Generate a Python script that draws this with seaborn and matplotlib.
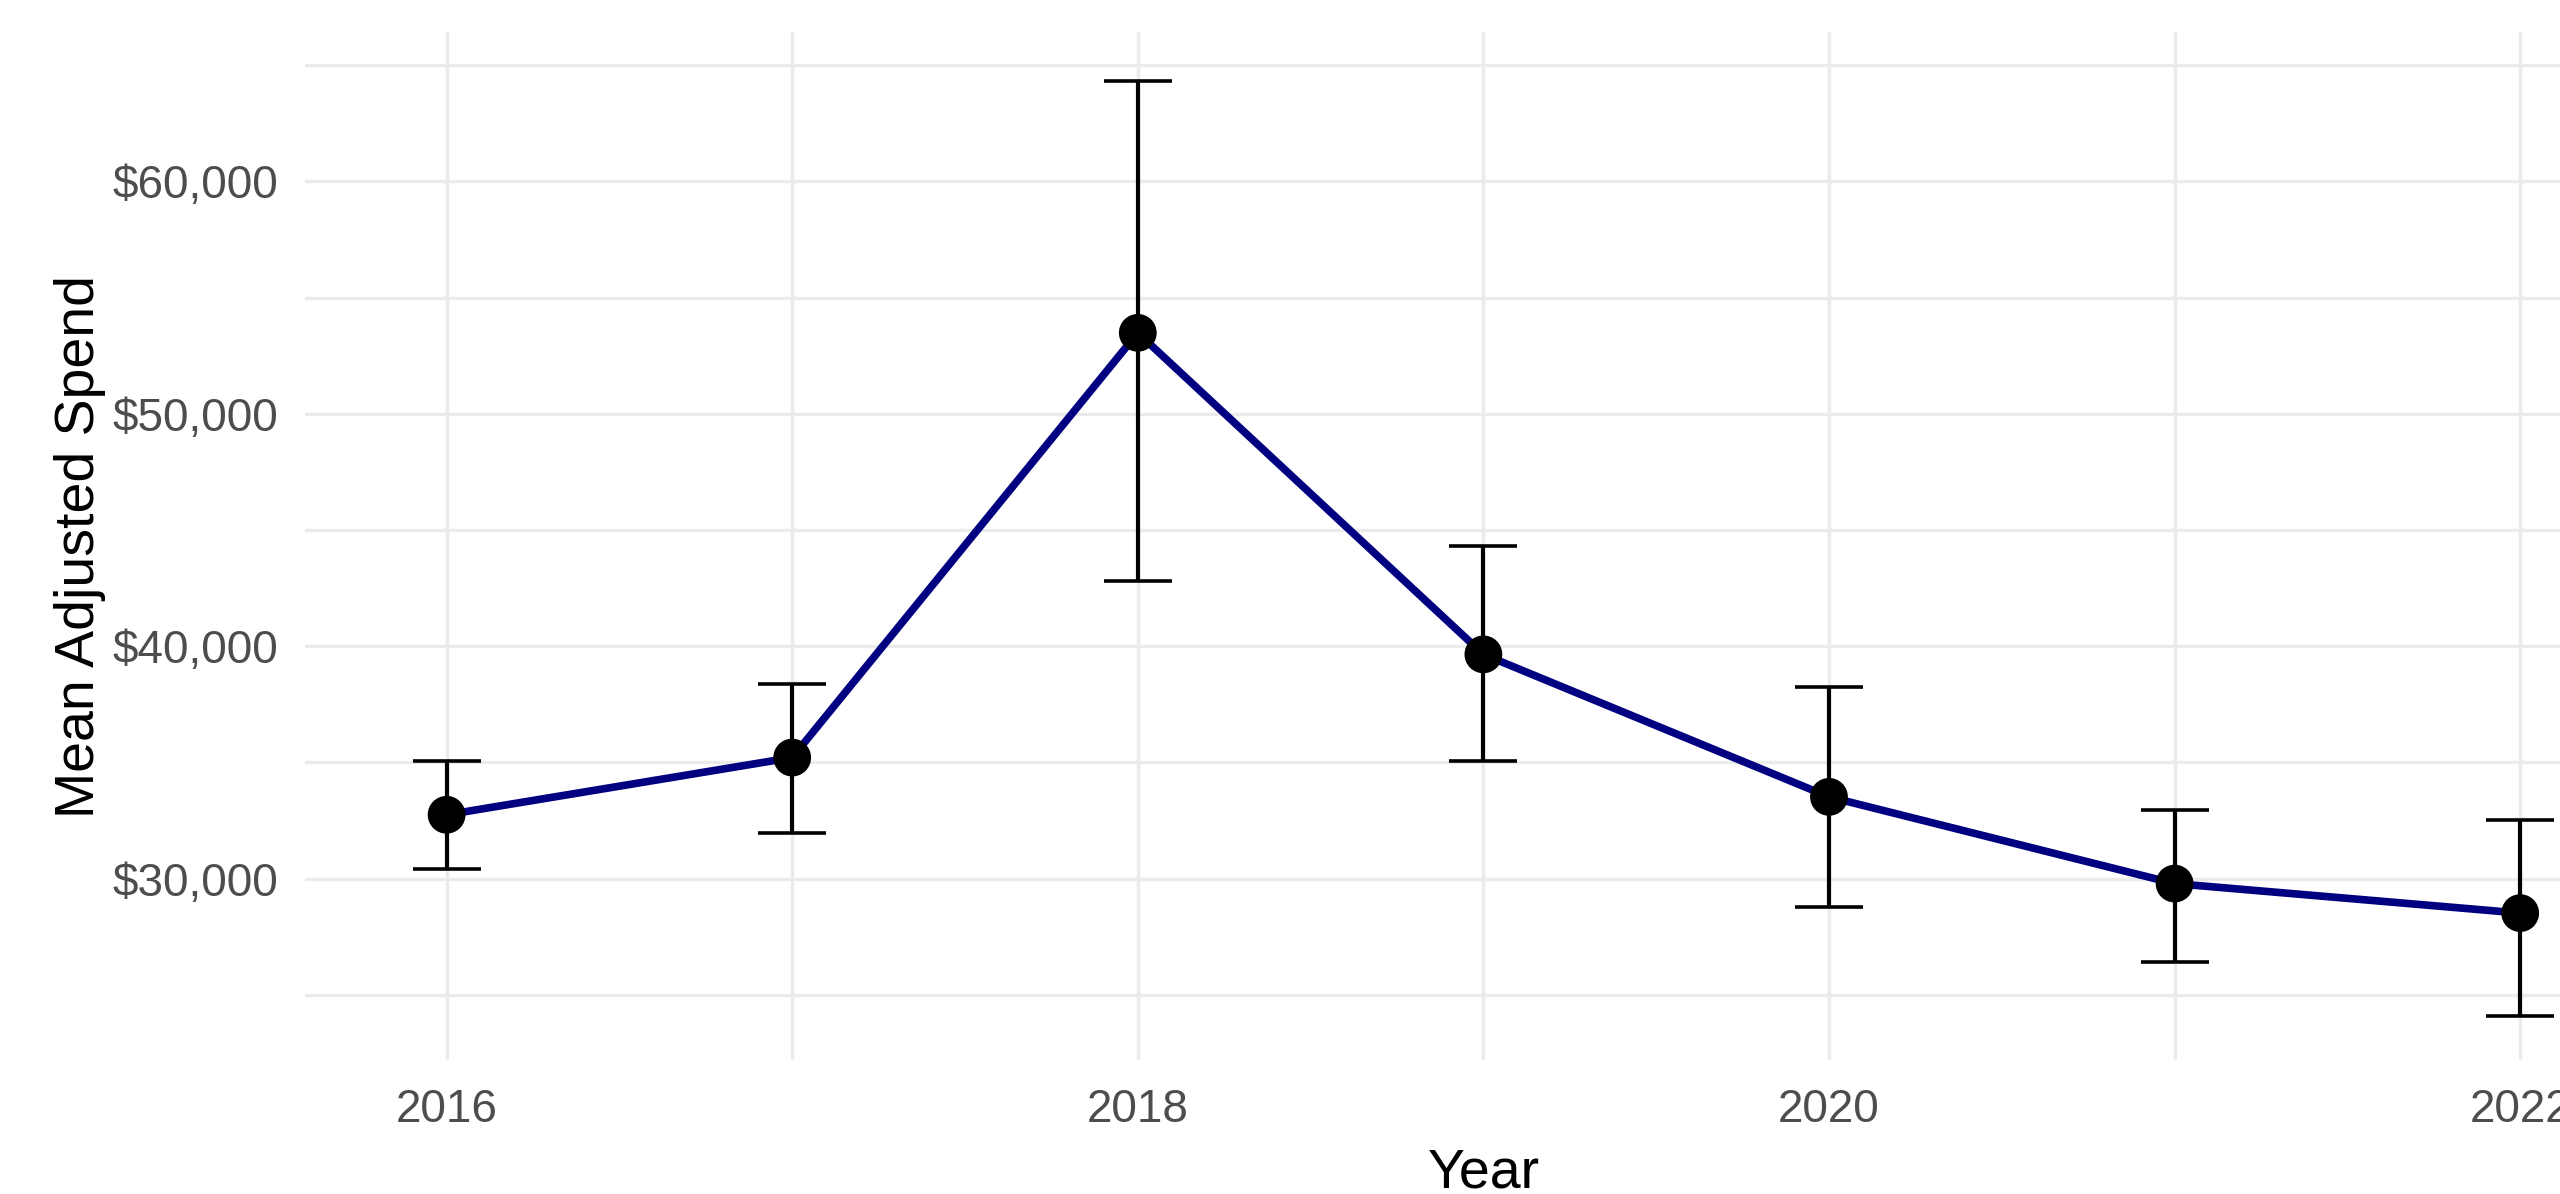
import numpy as np
import pandas as pd
import matplotlib
matplotlib.use('Agg')
import matplotlib.pyplot as plt
import matplotlib.ticker as mticker
import seaborn as sns

# values
years = [2016, 2017, 2018, 2019, 2020, 2021, 2022]
mean_spend = [32750, 35210, 53480, 39650, 33520, 29790, 28520]
ci_low = [30420, 31970, 42790, 35070, 28800, 26410, 24100]
ci_high = [35070, 38380, 64320, 44300, 38240, 32960, 32540]

df = pd.DataFrame({'year': years, 'mean': mean_spend, 'lo': ci_low, 'hi': ci_high})

sns.set_theme(style='white')
plt.rcParams['font.family'] = ['Liberation Sans', 'DejaVu Sans']

fig = plt.figure(figsize=(25.6, 11.94), dpi=100)
# panel runs past the right edge like the original (clipped)
ax = fig.add_axes([0.1191, 0.1122, 0.9207, 0.8606])

ax.set_axisbelow(True)
ax.grid(True, which='both', color='#EBEBEB', linewidth=2.4)

sns.lineplot(x='year', y='mean', data=df, ax=ax, color='#000080', linewidth=5.5, zorder=2)
ax.errorbar(df['year'], df['mean'],
            yerr=[df['mean'] - df['lo'], df['hi'] - df['mean']],
            fmt='none', ecolor='black', elinewidth=3, capsize=24.8, capthick=2.6, zorder=3)
sns.scatterplot(x='year', y='mean', data=df, ax=ax, color='black', s=740,
                edgecolor='none', zorder=4)

ax.set_xlim(2015.59, 2022.41)
ax.set_ylim(22200, 66400)

ax.xaxis.set_major_locator(mticker.FixedLocator([2016, 2018, 2020, 2022]))
ax.xaxis.set_minor_locator(mticker.FixedLocator([2017, 2019, 2021]))
ax.yaxis.set_major_locator(mticker.FixedLocator([30000, 40000, 50000, 60000]))
ax.yaxis.set_minor_locator(mticker.FixedLocator([25000, 35000, 45000, 55000, 65000]))
ax.yaxis.set_major_formatter(mticker.FuncFormatter(lambda v, p: '${:,.0f}'.format(v)))
ax.xaxis.set_major_formatter(mticker.FuncFormatter(lambda v, p: '{:d}'.format(int(v))))

ax.tick_params(axis='both', which='both', length=0, labelsize=33, labelcolor='#4D4D4D')
ax.tick_params(axis='x', pad=20)
ax.tick_params(axis='y', pad=19)

for s in ax.spines.values():
    s.set_visible(False)

ax.set_xlabel('Year', fontsize=40, color='black')
ax.set_ylabel('Mean Adjusted Spend', fontsize=40, color='black')
ax.xaxis.set_label_coords(0.5, -0.085)
ax.yaxis.set_label_coords(-0.0845, 0.5)

fig.savefig('out.png', dpi=100)
